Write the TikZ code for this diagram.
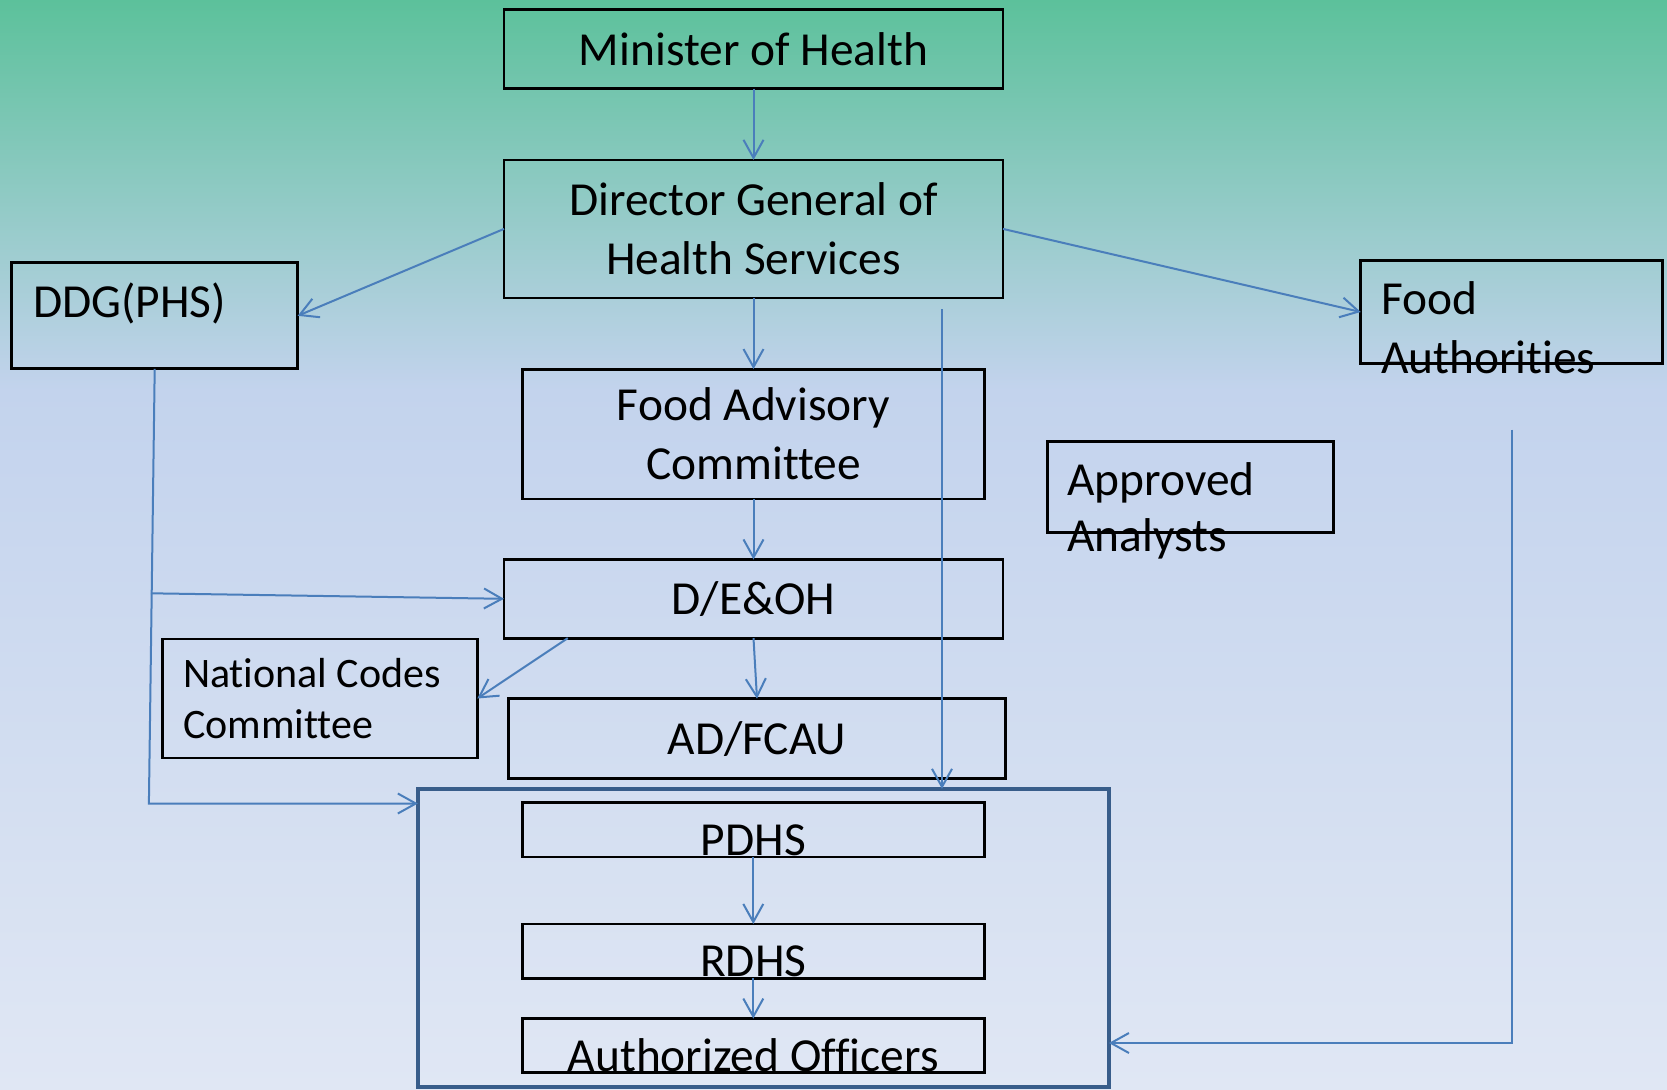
\documentclass[tikz,border=0pt]{standalone}
\usepackage{fontspec}
\setmainfont{Carlito}[Ligatures=NoCommon]
\usetikzlibrary{positioning, arrows.meta}

\definecolor{linkblue}{RGB}{74,126,187}
\definecolor{frameblue}{RGB}{56,93,138}
\definecolor{topgreen}{RGB}{92,193,155}
\definecolor{midblue}{RGB}{195,211,237}
\definecolor{lowblue}{RGB}{224,231,244}

\begin{document}
\begin{tikzpicture}[x=0.5pt, y=-0.5pt,
  box/.style={draw, line width=1.4pt, rectangle, inner sep=0pt, outer sep=0pt, align=center, font=\fontsize{23.7}{29.3}\selectfont},
  zone/.style={draw=frameblue, line width=2.2pt, rectangle, inner sep=0pt, outer sep=0pt},
  lbl/.style={inner sep=0pt, outer sep=0pt, align=left, font=\fontsize{23.7}{29.3}\selectfont},
  link/.style={draw=linkblue, line width=1pt, -{Straight Barb[length=9pt, width=10pt]}}]

  % Background
  \useasboundingbox (0,0) rectangle (1667,1089);
  \shade[top color=topgreen, bottom color=midblue] (0,0) rectangle (1667,390);
  \shade[top color=midblue, bottom color=lowblue] (0,389) rectangle (1667,1089);

  % Nodes
  \node[box, minimum width=249.5pt, minimum height=39.5pt] (minister) at (753.5,49) {Minister of Health};
  \node[box, minimum width=249.5pt, minimum height=69pt, below=35.7pt of minister] (dg) {Director General of\\Health Services};
  \node[box, minimum width=231.2pt, minimum height=64.9pt, below=35.6pt of dg] (fac) {Food Advisory\\Committee};
  \node[box, minimum width=249.5pt, minimum height=39.3pt, below=30.3pt of fac] (deoh) {D/E\&OH};
  \node[box, minimum width=248.8pt, minimum height=39.9pt, below=30.3pt of deoh, xshift=1.75pt] (adfcau) {AD/FCAU};

  \node[box, minimum width=143pt, minimum height=53pt] (ddg) at (154.7,315.8) {};
  \node[box, minimum width=151pt, minimum height=51.5pt] (fauth) at (1511.8,312) {};
  \node[box, minimum width=143pt, minimum height=45.7pt] (approved) at (1190.2,487) {};
  \node[box, minimum width=157.3pt, minimum height=59.5pt] (ncc) at (320,698.5) {};

  \node[zone, minimum width=345.5pt, minimum height=148.9pt] (district) at (763.4,937.8) {};
  \node[box, minimum width=231.2pt, minimum height=27.1pt] (pdhs) at (753.3,829.9) {};
  \node[box, minimum width=231.2pt, minimum height=27.1pt, below=33.5pt of pdhs] (rdhs) {};
  \node[box, minimum width=231.2pt, minimum height=27.1pt, below=20.2pt of rdhs] (officers) {};

  % Labels (base of a two-line label is its last line)
  \node[lbl, anchor=base west] (ddglbl) at (33,317) {DDG(PHS)};
  \node[lbl, anchor=base west, font=\fontsize{23.7}{29.5}\selectfont] (fauthlbl) at (1381,373) {Food\\Authorities};
  \node[lbl, anchor=base west, font=\fontsize{23.7}{28.3}\selectfont] (approvedlbl) at (1067.5,551.7) {Approved\\Analysts};
  \node[lbl, anchor=base west, font=\fontsize{21}{25.5}\selectfont] (ncclbl) at (183,738.3) {National Codes\\Committee};
  \node[lbl, anchor=base] (pdhslbl) at ([yshift=0.7pt]pdhs.south) {PDHS};
  \node[lbl, anchor=base] (rdhslbl) at ([yshift=0.7pt]rdhs.south) {RDHS};
  \node[lbl, anchor=base] (officerslbl) at ([yshift=0.7pt]officers.south) {Authorized Officers};

  % Arrows
  \draw[link] (minister.south) -- (dg.north);
  \draw[link] (dg.west) -- (ddg.east);
  \draw[link] (dg.east) -- (fauth.west);
  \draw[link] (dg.south) -- (fac.north);
  \draw[link] (fac.south) -- (deoh.north);
  \draw[link] (deoh.south) -- (adfcau.north);
  \draw[link] ([xshift=31.9pt]deoh.south west) -- (ncc.east);
  \draw[link] (pdhs.south) -- (rdhs.north);
  \draw[link] (rdhs.south) -- (officers.north);

  \coordinate (dgdrop) at (942,309);
  \draw[link] (dgdrop) -- (dgdrop |- district.north);

  \coordinate (ddgbend) at (148.9,803.5);
  \coordinate (ddgfork) at (151,593.3);
  \draw[link] (ddg.south) -- (ddgbend) -- (ddgbend -| district.west);
  \draw[link] (ddgfork) -- (deoh.west);

  \coordinate (fauthdrop) at (1512,429.5);
  \coordinate (fauthbend) at (1512,1043);
  \draw[link] (fauthdrop) -- (fauthbend) -- (fauthbend -| district.east);

\end{tikzpicture}
\end{document}
